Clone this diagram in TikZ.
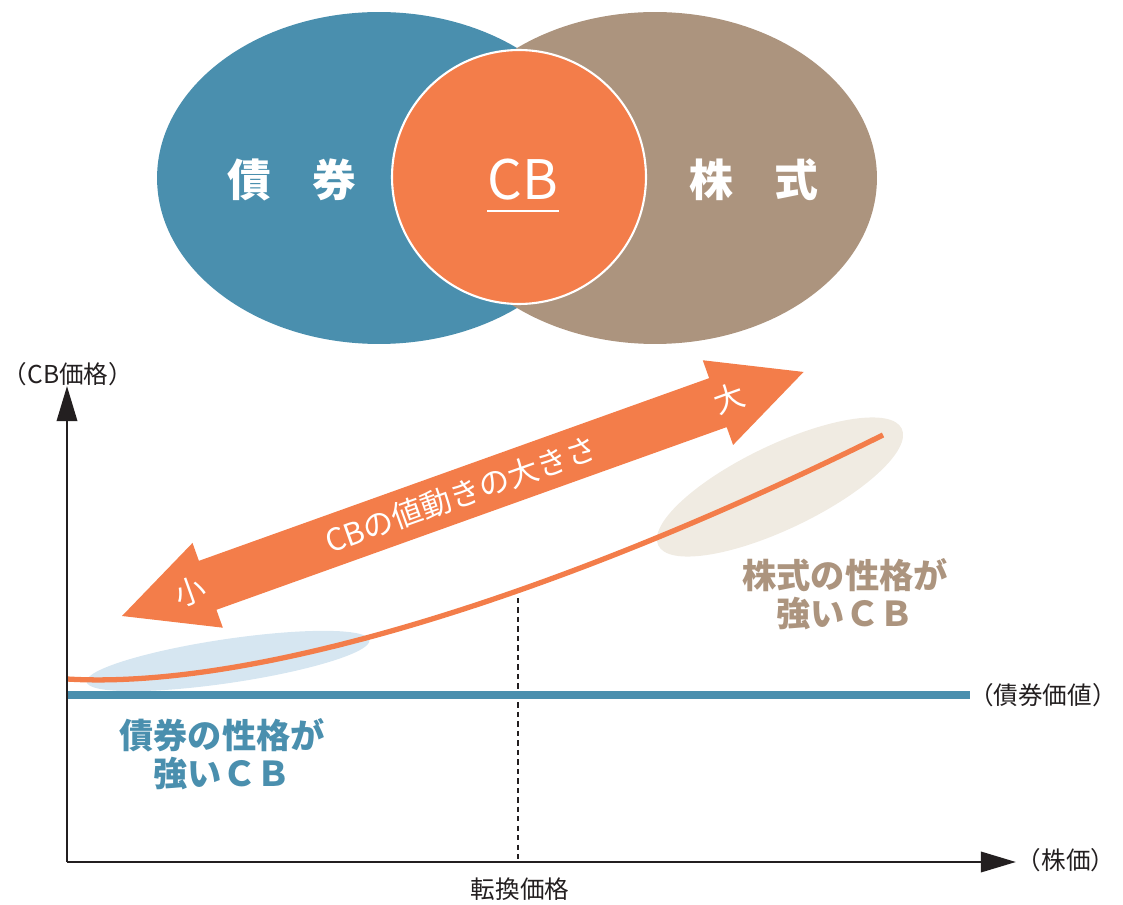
\documentclass[tikz,border=0pt]{standalone}
\usepackage{fontspec}
\newfontfamily\jp{Noto Sans CJK JP}
\usetikzlibrary{arrows.meta,shapes.geometric}
\definecolor{bondc}{HTML}{4A8FAE}
\definecolor{stockc}{HTML}{AC947E}
\definecolor{cbc}{HTML}{F37D4A}
\definecolor{bondl}{HTML}{D6E6F1}
\definecolor{stockl}{HTML}{F0EBE2}
\definecolor{axisc}{HTML}{231F20}
\begin{document}
\begin{tikzpicture}[x=0.02cm,y=-0.02cm,
  blob/.style={shape=ellipse,inner sep=0pt,minimum width=8.88cm,minimum height=6.64cm},
  venn/.style={font=\jp\bfseries\fontsize{25}{25}\selectfont,text=white},
  axl/.style={font=\jp\fontsize{14}{14}\selectfont,text=axisc},
  kind/.style={font=\jp\bfseries\fontsize{19.5}{22}\selectfont,align=center},
  onarrow/.style={font=\jp\fontsize{17.5}{17.5}\selectfont,text=white,rotate=19.7},
  axis/.style={axisc,line width=1.7pt,-{Triangle[length=20pt,width=11.5pt]}}]
\useasboundingbox (0,0) rectangle (1123,905);

% Venn
\node[blob,fill=bondc] (bond) at (379,178) {};
\node[blob,fill=stockc] (stock) at (655,178) {};
\node[circle,fill=cbc,draw=white,line width=1.2pt,inner sep=0pt,minimum size=5.08cm] (cb) at (519,177) {};
\node[venn] (bondtx) at (292,180) {債\hspace{0.95em}券};
\node[venn] (stocktx) at (754,180) {株\hspace{0.95em}式};
\node[venn,font=\jp\fontsize{31}{31}\selectfont,inner sep=0pt] (cbtx) at (523,180) {CB};
\draw[white,line width=1.1pt] ([yshift=-6.3pt]cbtx.base west) -- ([yshift=-6.3pt]cbtx.base east);

% big arrow
\begin{scope}[shift={(122,616)},rotate=19.7]
\fill[cbc] (0,0) -- (91,-45) -- (91,-26) -- (633,-26) -- (633,-45) -- (724,0)
  -- (633,45) -- (633,26) -- (91,26) -- (91,45) -- cycle;
\node[onarrow] (size) at (360,0) {CBの値動きの大きさ};
\node[onarrow] (small) at (72,0) {小};
\node[onarrow] (large) at (645,0) {大};
\end{scope}

% character zones
\fill[bondl,rotate around={8.4:(228,661)}] (228,661) ellipse [x radius=143,y radius=22];
\fill[stockl,rotate around={25.6:(780,487)}] (780,487) ellipse [x radius=135,y radius=42];

% axes
\coordinate (o) at (67,862);
\coordinate (ytop) at (67,386);
\coordinate (xend) at (1016,862);
\coordinate (bv0) at (67,695);
\coordinate (bv1) at (970,695);
\coordinate (conv) at (518,598);
\draw[axisc,line width=0.6pt,dash pattern=on 3pt off 2.4pt] (conv) -- (conv|-o);
\draw[bondc,line width=4pt] (bv0) -- (bv1);
\draw[cbc,line width=3pt] (67,679) .. controls (250,690) and (550,600) .. (883,435);
\draw[axis] (o) -- (ytop);
\draw[axis] (o) -- (xend);

\node[axl] (ylab) at (68,374) {（CB価格）};
\node[axl] (xlab) at (1066,860) {（株価）};
\node[axl] (convlab) at (520,889) {転換価格};
\node[axl,anchor=east,inner sep=0pt] (bvlab) at (1117,695) {（債券価値）};

\node[kind,text=stockc] (stocklab) at (845,594) {株式の性格が\\強いＣＢ};
\node[kind,text=bondc] (bondlab) at (222,754) {債券の性格が\\強いＣＢ};
\end{tikzpicture}
\end{document}
